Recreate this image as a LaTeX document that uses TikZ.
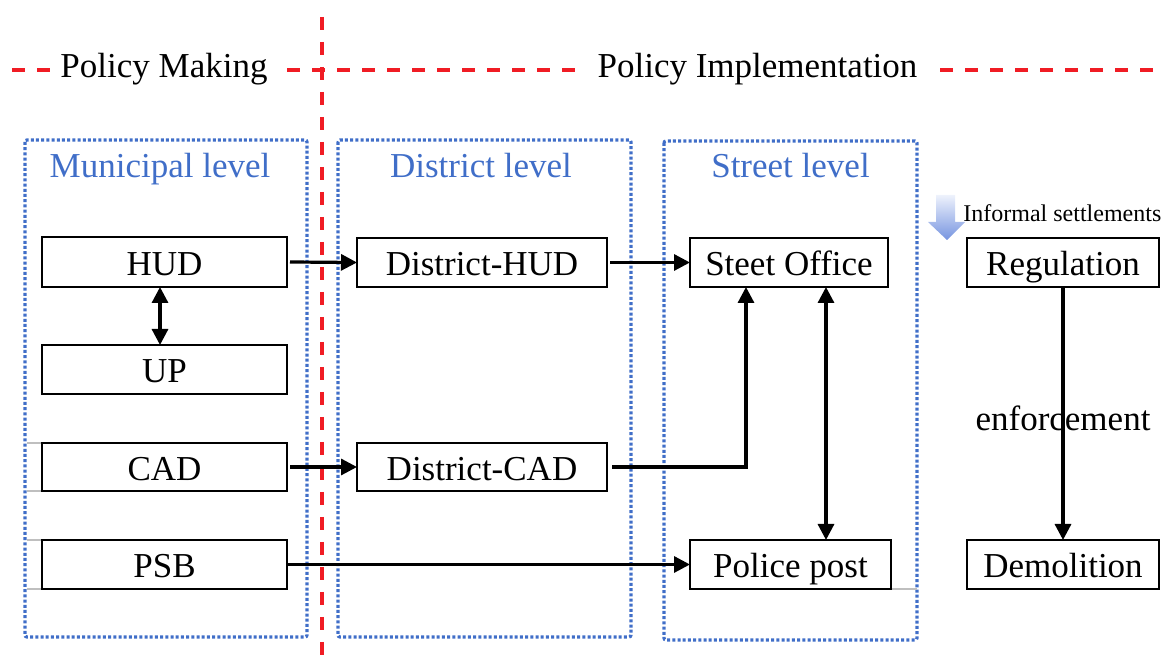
\documentclass[tikz,border=0pt]{standalone}
\usepackage{fontspec}
\setmainfont{Liberation Serif}
\usetikzlibrary{arrows.meta}

\definecolor{lvlblue}{RGB}{64,110,200}
\definecolor{divred}{RGB}{240,28,36}

% box given by its corners (x1,y1) and (x2,y2), in pixel units
\newcommand\cornerbox[6]{%
  \node[unitbox, minimum width={(#4-#2)*0.5pt}, minimum height={(#5-#3)*0.5pt}]
    (#1) at ({(#2+#4)/2},{(#3+#5)/2}) {#6};}

\begin{document}
\begin{tikzpicture}[x=0.5pt, y=-0.5pt,
  bigtext/.style={font=\fontsize{17.5}{20}\selectfont},
  unitbox/.style={bigtext, draw=black, line width=1pt, fill=white,
    inner sep=0pt, outer sep=0pt, text height=15pt, text depth=1.75pt},
  levelframe/.style={draw=lvlblue, line width=1.6pt, dash pattern=on 1.5pt off 1.1pt,
    rounded corners=1pt},
  levelhead/.style={bigtext, text=lvlblue, anchor=base, inner sep=0pt},
  divider/.style={draw=divred, line width=1.7pt, dash pattern=on 6.5pt off 6pt},
  flow/.style={line width=1.6pt, -{Triangle[length=8pt,width=8pt]}},
  twoway/.style={line width=1.6pt, {Triangle[length=8pt,width=8pt]}-{Triangle[length=8pt,width=8pt]}},
  faint/.style={draw=black!25, line width=0.6pt}
]
\useasboundingbox (0,0) rectangle (1164,657);

% policy stages and the red dividers
\node[bigtext, anchor=base, inner sep=0pt] (making) at (164,78) {Policy Making};
\node[bigtext, anchor=base, inner sep=0pt] (implement) at (757.5,78) {Policy Implementation};
\draw[divider] (12,70) -- (52,70);
\draw[divider] (287,70) -- (577,70);
\draw[divider] (940,70) -- (1164,70);
\draw[divider] (322,17) -- (322,657);

% administrative levels
\draw[levelframe] (25,140) rectangle (307,637);
\draw[levelframe] (338,140) rectangle (631,637);
\draw[levelframe] (664,141) rectangle (917,640);
\node[levelhead] (hmun) at (160,178) {Municipal level};
\node[levelhead] (hdis) at (481,178) {District level};
\node[levelhead] (hstr) at (790.5,178) {Street level};

% faint table rules
\draw[faint] (27,443) -- (42,443);
\draw[faint] (27,491) -- (42,491);
\draw[faint] (27,540) -- (42,540);
\draw[faint] (27,589) -- (42,589);
\draw[faint] (891,589) -- (917,589);

% agencies
\cornerbox{hud}{42}{237}{287}{287}{HUD}
\cornerbox{up}{42}{345}{287}{394}{UP}
\cornerbox{cad}{42}{443}{287}{491}{CAD}
\cornerbox{psb}{42}{540}{287}{589}{PSB}
\cornerbox{dhud}{357}{238}{607}{287}{District-HUD}
\cornerbox{dcad}{357}{443}{607}{491}{District-CAD}
\cornerbox{office}{690}{238}{888}{287}{Steet Office}
\cornerbox{police}{690}{540}{891}{589}{Police post}
\cornerbox{regul}{967}{238}{1159}{287}{Regulation}
\cornerbox{demol}{967}{540}{1159}{589}{Demolition}

% informal settlements marker
\shade[top color={rgb,255:red,238;green,242;blue,252},
       bottom color={rgb,255:red,118;green,148;blue,224}]
  (936,195) -- (955,195) -- (955,222) -- (965,222) -- (947,240)
  -- (928,222) -- (936,222) -- cycle;
\node[font=\fontsize{12}{14}\selectfont, anchor=base west, inner sep=0pt]
  (informal) at (963,222) {Informal settlements};
\node[bigtext, anchor=base, inner sep=0pt] (enforce) at (1063,431) {enforcement};

% flows between agencies
\coordinate (xhu) at (160,0);
\coordinate (xel) at (746,0);
\coordinate (xpo) at (826,0);
\draw[flow] ([xshift=1.5pt]hud.east) -- (dhud.west);
\draw[twoway] (hud.south -| xhu) -- (up.north -| xhu);
\draw[flow] ([xshift=1.5pt]cad.east) -- (dcad.west);
\draw[flow] ([xshift=1.5pt]dhud.east) -- (office.west);
\draw[flow] ([xshift=2.5pt]dcad.east) -| (xel |- office.south);
\draw[twoway] (office.south -| xpo) -- (police.north -| xpo);
\draw[flow] (psb.east) -- (police.west);
\draw[flow] (regul.south) -- (demol.north);
\end{tikzpicture}
\end{document}
